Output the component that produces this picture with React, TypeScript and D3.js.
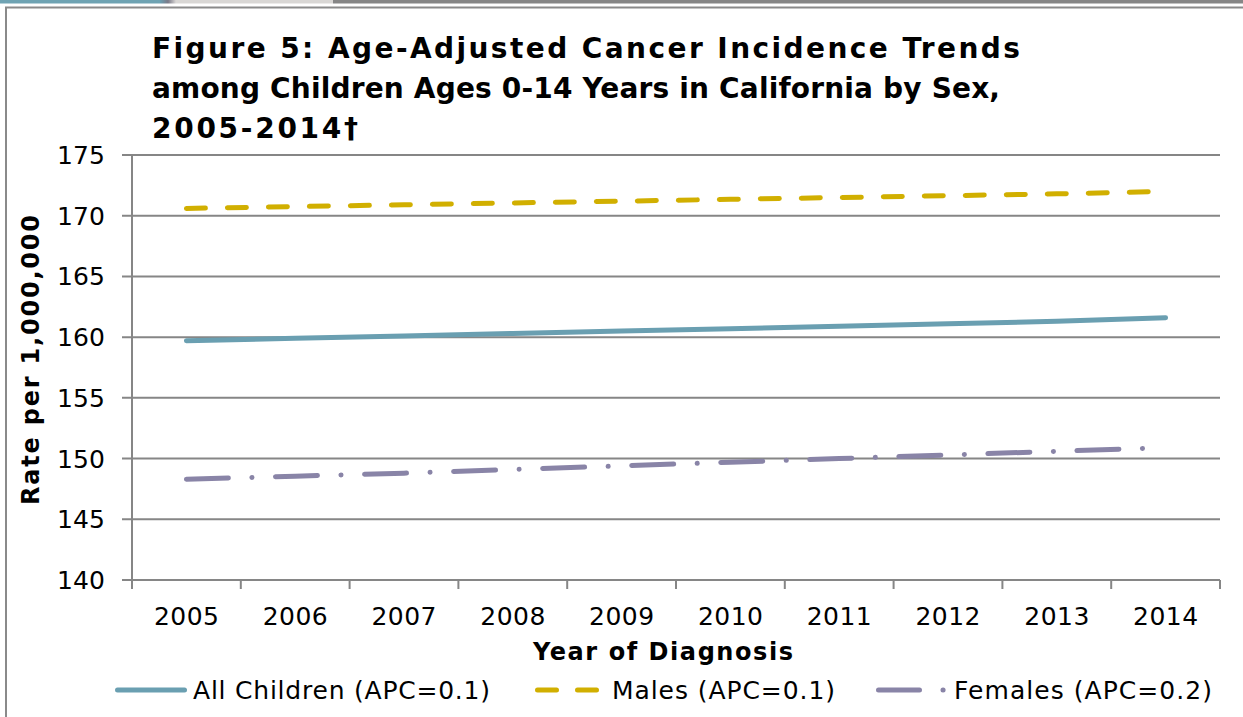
import React from "react";
import * as d3 from "d3";

const years = ["2005", "2006", "2007", "2008", "2009", "2010", "2011", "2012", "2013", "2014"];
const allChildren = [159.7, 159.9, 160.1, 160.3, 160.5, 160.7, 160.9, 161.1, 161.3, 161.6];
const males = [170.6, 170.75, 170.9, 171.05, 171.2, 171.35, 171.5, 171.65, 171.8, 172.0];
const females = [148.3, 148.55, 148.8, 149.1, 149.4, 149.7, 150.0, 150.3, 150.6, 150.9];
const yTicks = [140, 145, 150, 155, 160, 165, 170, 175];
const titleLines = [
  "Figure 5: Age-Adjusted Cancer Incidence Trends",
  "among Children Ages 0-14 Years in California by Sex,",
  "2005-2014\u2020",
];
const seriesNames = ["All Children (APC=0.1)", "Males (APC=0.1)", "Females (APC=0.2)"];

const W = 1243;
const H = 717;
const plot = { left: 132, right: 1220, top: 155, bottom: 580 };
const font = "'DejaVu Sans', Verdana, sans-serif";
const gridColor = "#868686";

const series = [
  { name: seriesNames[0], values: allChildren, color: "#6A9FB1", dash: "none" },
  { name: seriesNames[1], values: males, color: "#D1AF00", dash: "19 22" },
  { name: seriesNames[2], values: females, color: "#8984A7", dash: "42 23.5 0.1 23.5" },
];

export default function App() {
  const x = d3.scaleBand<string>().domain(years).range([plot.left, plot.right]);
  const y = d3.scaleLinear().domain([140, 175]).range([plot.bottom, plot.top]);
  const line = d3
    .line<number>()
    .x((_, i) => (x(years[i]) as number) + x.bandwidth() / 2)
    .y((d) => y(d));

  const boundaries = years.map((yr) => x(yr) as number).concat([plot.right]);

  const titleLens = [868, 848, 206];
  const legendItems = [
    { x1: 117.5, x2: 184.5, tx: 193, len: 297, dash: "none" },
    { x1: 537.5, x2: 596.5, tx: 612, len: 223, dash: "19 21" },
    { x1: 878.5, x2: 946, tx: 954, len: 258, dash: "41 23.5 0.1 40" },
  ];

  return (
    <div style={{ position: "absolute", left: 0, top: 0 }}>
      <svg width={W} height={H} style={{ display: "block", background: "#fff" }}>
        <defs>
          <linearGradient id="sep" x1="0" x2="1" y1="0" y2="0">
            <stop offset="0" stopColor="#6A9FB1" />
            <stop offset="0.5" stopColor="#7a7a88" />
            <stop offset="1" stopColor="#d9d7d5" />
          </linearGradient>
        </defs>
        <rect x={0} y={0} width={160} height={3.5} fill="#6FA3B3" />
        <rect x={160} y={0} width={16} height={3.5} fill="url(#sep)" />
        <rect x={176} y={0} width={157} height={3.5} fill="#D9D7D5" />
        <rect x={333} y={0} width={W - 333} height={3.5} fill="#868686" />
        <rect x={6} y={7.5} width={W + 20} height={H + 20} fill="none" stroke="#8a8a8a" strokeWidth={2} />

        {titleLines.map((t, i) => (
          <text
            key={i}
            x={152}
            y={58 + i * 40}
            textLength={titleLens[i]}
            lengthAdjust="spacing"
            fontFamily={font}
            fontWeight="bold"
            fontSize={28}
            fill="#000"
          >
            {t}
          </text>
        ))}

        {yTicks.map((t) => (
          <line key={t} x1={plot.left - 10} x2={plot.right} y1={y(t)} y2={y(t)} stroke={gridColor} strokeWidth={2} />
        ))}
        <line x1={plot.left} x2={plot.left} y1={plot.top} y2={plot.bottom} stroke={gridColor} strokeWidth={2} />
        {boundaries.map((b, i) => (
          <line key={i} x1={b} x2={b} y1={plot.bottom} y2={plot.bottom + 9} stroke={gridColor} strokeWidth={2} />
        ))}

        {yTicks.map((t) => (
          <text
            key={t}
            x={57}
            y={y(t)}
            dy="0.36em"
            textLength={48}
            lengthAdjust="spacing"
            fontFamily={font}
            fontSize={25}
            fill="#000"
          >
            {t}
          </text>
        ))}
        {years.map((yr) => (
          <text
            key={yr}
            x={(x(yr) as number) + x.bandwidth() / 2 - 32.5}
            y={625}
            textLength={65}
            lengthAdjust="spacing"
            fontFamily={font}
            fontSize={25}
            fill="#000"
          >
            {yr}
          </text>
        ))}

        <text
          transform={`translate(39,505) rotate(-90)`}
          textLength={290}
          lengthAdjust="spacing"
          fontFamily={font}
          fontWeight="bold"
          fontSize={24}
          fill="#000"
        >
          Rate per 1,000,000
        </text>
        <text
          x={533}
          y={660}
          textLength={260}
          lengthAdjust="spacing"
          fontFamily={font}
          fontWeight="bold"
          fontSize={24}
          fill="#000"
        >
          Year of Diagnosis
        </text>

        {series.map((s) => (
          <path
            key={s.name}
            d={line(s.values) as string}
            fill="none"
            stroke={s.color}
            strokeWidth={5}
            strokeLinecap="round"
            strokeDasharray={s.dash === "none" ? undefined : s.dash}
          />
        ))}

        {series.map((s, i) => (
          <g key={s.name}>
            <line
              x1={legendItems[i].x1}
              x2={legendItems[i].x2}
              y1={690}
              y2={690}
              stroke={s.color}
              strokeWidth={5}
              strokeLinecap="round"
              strokeDasharray={legendItems[i].dash === "none" ? undefined : legendItems[i].dash}
            />
            <text
              x={legendItems[i].tx}
              y={690}
              dy="0.36em"
              textLength={legendItems[i].len}
              lengthAdjust="spacing"
              fontFamily={font}
              fontSize={25}
              fill="#000"
            >
              {s.name}
            </text>
          </g>
        ))}
      </svg>
    </div>
  );
}
